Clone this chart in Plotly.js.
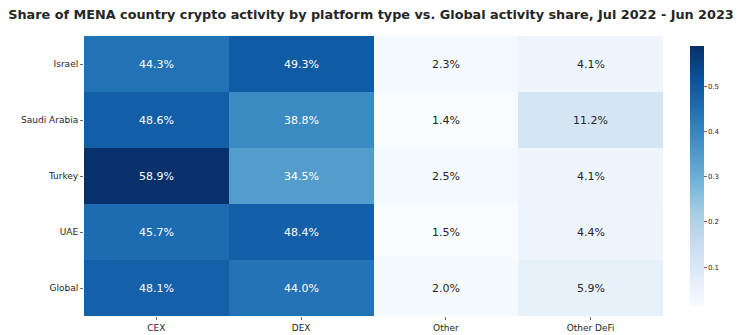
<!DOCTYPE html>
<html>
<head>
<meta charset="utf-8">
<script src="https://cdn.plot.ly/plotly-3.0.1.min.js"></script>
<style>html,body{margin:0;padding:0;background:#fff;}#chart{width:742px;height:335px;}</style>
</head>
<body>
<div id="chart"></div>
<script>
const countries = ["Israel", "Saudi Arabia", "Turkey", "UAE", "Global"];
const platforms = ["CEX", "DEX", "Other", "Other DeFi"];
const israel = [0.443, 0.493, 0.023, 0.041];
const saudiArabia = [0.486, 0.388, 0.014, 0.112];
const turkey = [0.589, 0.345, 0.025, 0.041];
const uae = [0.457, 0.484, 0.015, 0.044];
const global = [0.481, 0.440, 0.020, 0.059];
const colorbarTicks = [0.1, 0.2, 0.3, 0.4, 0.5];

const z = [israel, saudiArabia, turkey, uae, global];
const flat = z.flat();
const zmin = Math.min(...flat), zmax = Math.max(...flat);

const blues = [
  [0.0, '#f7fbff'], [0.125, '#deebf7'], [0.25, '#c6dbef'], [0.375, '#9ecae1'],
  [0.5, '#6baed6'], [0.625, '#4292c6'], [0.75, '#2171b5'], [0.875, '#08519c'], [1.0, '#08306b']
];

const annotations = [];
z.forEach((row, i) => row.forEach((v, j) => {
  const frac = (v - zmin) / (zmax - zmin);
  annotations.push({
    x: platforms[j], y: countries[i], xref: 'x', yref: 'y',
    text: (v * 100).toFixed(1) + '%', showarrow: false,
    font: {family: 'DejaVu Sans', size: 11, color: frac > 0.5 ? '#ffffff' : '#262626'}
  });
}));

const trace = {
  type: 'heatmap', z: z, x: platforms, y: countries,
  colorscale: blues, zmin: zmin, zmax: zmax, hoverinfo: 'skip',
  colorbar: {
    x: 1.029, xanchor: 'left', y: 0.5, yanchor: 'middle', len: 1, lenmode: 'fraction',
    thickness: 14, outlinewidth: 0, tickvals: colorbarTicks,
    ticks: 'outside', ticklen: 3, tickcolor: '#444', tickwidth: 0.8,
    tickfont: {family: 'DejaVu Sans', size: 7, color: '#262626'}
  }
};

const layout = {
  width: 742, height: 335,
  margin: {l: 84, r: 65, t: 36, b: 19},
  paper_bgcolor: '#fff', plot_bgcolor: '#fff',
  title: {text: '<b>Share of MENA country crypto activity by platform type vs. Global activity share, Jul 2022 - Jun 2023</b>',
    font: {family: 'DejaVu Sans', size: 12.8, color: '#262626'}, x: 0.5, xanchor: 'center', y: 0.957, yanchor: 'middle'},
  xaxis: {showgrid: false, zeroline: false, ticks: 'outside', ticklen: 3, tickcolor: '#444', tickwidth: 0.8,
    tickfont: {family: 'DejaVu Sans', size: 9, color: '#262626'}, showline: false},
  yaxis: {autorange: 'reversed', showgrid: false, zeroline: false, ticks: 'outside', ticklen: 3, tickcolor: '#444', tickwidth: 0.8,
    tickfont: {family: 'DejaVu Sans', size: 9, color: '#262626'}, showline: false},
  annotations: annotations
};

Plotly.newPlot('chart', [trace], layout, {displayModeBar: false, staticPlot: true});
</script>
</body>
</html>
